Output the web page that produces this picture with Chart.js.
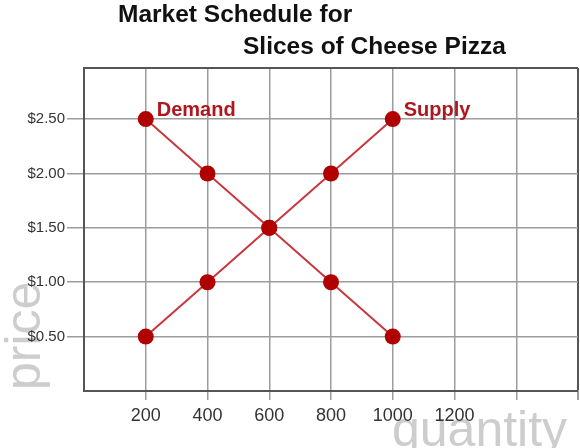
<!DOCTYPE html>
<html>
<head>
<meta charset="utf-8">
<title>Market Schedule for Slices of Cheese Pizza</title>
<script src="https://cdn.jsdelivr.net/npm/chart.js@4.4.1/dist/chart.umd.min.js"></script>
<style>
  html, body { margin: 0; padding: 0; background: #ffffff; }
  #wrap { width: 580px; height: 448px; }
</style>
</head>
<body>
<div id="wrap"><canvas id="myChartPizza"></canvas></div>
<script>
//? Données du graphique.

const quantites = [200, 400, 600, 800, 1000];
const prixDemande = [2.5, 2.0, 1.5, 1.0, 0.5];
const prixOffre = [0.5, 1.0, 1.5, 2.0, 2.5];

const titreLignes = ["Market Schedule for", "Slices of Cheese Pizza"];
const nomsCourbes = ["Demand", "Supply"];
const etiquettesX = [200, 400, 600, 800, 1000, 1200];
const etiquettesY = [0.5, 1.0, 1.5, 2.0, 2.5];

//? -------------------------------------------------

const rouge = "#b00000";
const rougeLigne = "#c8383f";
const gris = "#9c9c9c";
const bord = "#555555";

const pointsDemande = quantites.map((q, i) => ({ x: q, y: prixDemande[i] }));
const pointsOffre = quantites.map((q, i) => ({ x: q, y: prixOffre[i] }));

//? Textes dessinés sur le canvas (titre, noms des courbes, titres des axes).

const textesPlugin = {
  id: "textesPizza",
  beforeDraw(chart) {
    const ctx = chart.ctx;
    ctx.save();
    ctx.fillStyle = "#cdcdcd";
    ctx.font = "50px 'Liberation Sans', Arial, sans-serif";
    ctx.textBaseline = "alphabetic";
    ctx.textAlign = "left";
    // price (vertical)
    ctx.save();
    ctx.translate(40, 390);
    ctx.rotate(-Math.PI / 2);
    ctx.fillText("price", 0, 0);
    ctx.restore();
    // quantity
    ctx.fillText("quantity", 392, 446);
    ctx.restore();
  },
  afterDraw(chart) {
    const ctx = chart.ctx;
    const x = chart.scales.x;
    const y = chart.scales.y;
    ctx.save();
    ctx.fillStyle = "#111111";
    ctx.font = "bold 24.5px 'Liberation Sans', Arial, sans-serif";
    ctx.textAlign = "left";
    ctx.textBaseline = "alphabetic";
    ctx.fillText(titreLignes[0], 118, 22);
    ctx.fillText(titreLignes[1], 243, 54);

    ctx.fillStyle = "#b0161d";
    ctx.font = "bold 20px 'Liberation Sans', Arial, sans-serif";
    const derniers = [pointsDemande[0], pointsOffre[pointsOffre.length - 1]];
    derniers.forEach((p, i) => {
      ctx.fillText(nomsCourbes[i], x.getPixelForValue(p.x) + 11, y.getPixelForValue(p.y) - 3);
    });
    ctx.restore();
  },
};

//? Construction du graphique.

const construireGraphique = () => {
  const ctx = document.getElementById("myChartPizza").getContext("2d");

  const styleCourbe = {
    borderColor: rougeLigne,
    borderWidth: 2,
    backgroundColor: rouge,
    pointBackgroundColor: rouge,
    pointBorderColor: rouge,
    pointRadius: 8,
    pointBorderWidth: 0,
    showLine: true,
    tension: 0,
  };

  const data = {
    datasets: [
      { label: nomsCourbes[0], data: pointsDemande, ...styleCourbe },
      { label: nomsCourbes[1], data: pointsOffre, ...styleCourbe },
    ],
  };

  const options = {
    responsive: true,
    maintainAspectRatio: false,
    animation: { duration: 0 },
    layout: { autoPadding: false, padding: { top: 68, right: 2, left: 0, bottom: 0 } },
    plugins: {
      legend: { display: false },
      title: { display: false },
      tooltip: { enabled: false },
    },
    scales: {
      x: {
        type: "linear",
        min: 0,
        max: 1600,
        afterFit: (scale) => {
          scale.height = 57;
          scale.paddingLeft = 0;
          scale.paddingRight = 0;
        },
        ticks: {
          stepSize: 200,
          padding: 5,
          color: "#333333",
          font: { family: "'Liberation Sans', Arial, sans-serif", size: 18 },
          maxRotation: 0,
          autoSkip: false,
          callback: (v) => (etiquettesX.includes(v) ? String(v) : ""),
        },
        grid: {
          color: (c) => (c.tick && c.tick.value === 1600 ? bord : gris),
          lineWidth: (c) => (c.tick && c.tick.value === 1600 ? 2 : 1.5),
          tickColor: (c) => (c.tick && c.tick.value === 0 ? "rgba(0,0,0,0)" : gris),
          tickLength: 9,
        },
        border: { display: true, color: bord, width: 2 },
      },
      y: {
        type: "linear",
        min: 0,
        max: 2.97,
        afterFit: (scale) => { scale.width = 84; },
        ticks: {
          stepSize: 0.5,
          padding: 2,
          color: "#333333",
          font: { family: "'Liberation Sans', Arial, sans-serif", size: 15 },
          autoSkip: false,
          callback: (v) => (etiquettesY.includes(v) ? "$" + v.toFixed(2) : ""),
        },
        grid: {
          color: (c) => (c.tick && c.tick.value > 2.9 ? bord : gris),
          lineWidth: (c) => (c.tick && c.tick.value > 2.9 ? 2 : 1.5),
          tickColor: (c) =>
            c.tick && (c.tick.value === 0 || c.tick.value > 2.9) ? "rgba(0,0,0,0)" : gris,
          tickLength: 17,
        },
        border: { display: true, color: bord, width: 2 },
      },
    },
  };

  new Chart(ctx, { type: "scatter", data, options, plugins: [textesPlugin] });
};

construireGraphique();
</script>
</body>
</html>
